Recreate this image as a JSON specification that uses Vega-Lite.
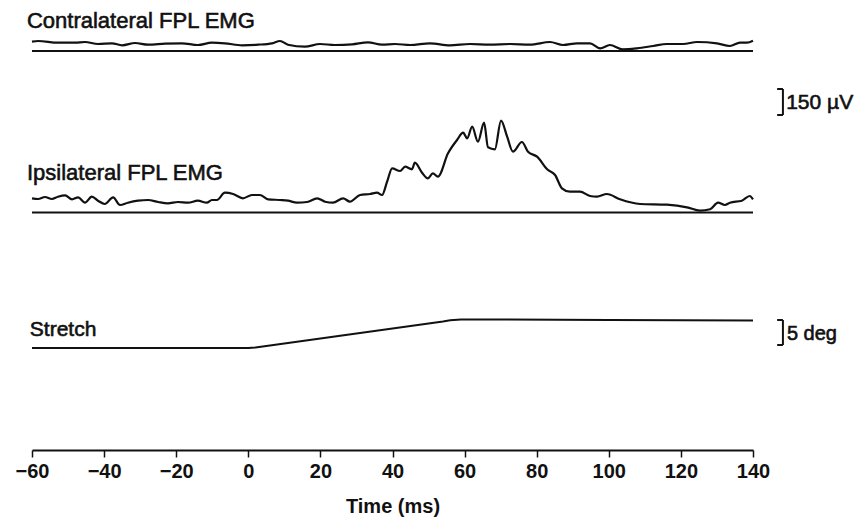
{
  "$schema": "https://vega.github.io/schema/vega-lite/v6.json",
  "width": 721,
  "height": 450,
  "autosize": {"type": "none"},
  "padding": {"left": 32, "right": 104, "top": 0, "bottom": 69},
  "background": "white",
  "config": {"view": {"stroke": null}},
  "datasets": {
    "traces": [
      {"trace": "contra", "t": -60, "v": 408.3},
      {"trace": "contra", "t": -58.3, "v": 409},
      {"trace": "contra", "t": -52.8, "v": 407.3},
      {"trace": "contra", "t": -48.1, "v": 407.3},
      {"trace": "contra", "t": -45.3, "v": 408},
      {"trace": "contra", "t": -41.7, "v": 406},
      {"trace": "contra", "t": -37.8, "v": 406.7},
      {"trace": "contra", "t": -35.0, "v": 404.7},
      {"trace": "contra", "t": -31.4, "v": 407},
      {"trace": "contra", "t": -27.8, "v": 405.3},
      {"trace": "contra", "t": -23.1, "v": 406.3},
      {"trace": "contra", "t": -18.4, "v": 406.7},
      {"trace": "contra", "t": -14.0, "v": 405},
      {"trace": "contra", "t": -10.1, "v": 407.3},
      {"trace": "contra", "t": -6.5, "v": 406.7},
      {"trace": "contra", "t": -1.7, "v": 404.7},
      {"trace": "contra", "t": 2.7, "v": 405.3},
      {"trace": "contra", "t": 6.6, "v": 406.7},
      {"trace": "contra", "t": 8.8, "v": 409},
      {"trace": "contra", "t": 11.0, "v": 405.3},
      {"trace": "contra", "t": 15.7, "v": 403.3},
      {"trace": "contra", "t": 19.9, "v": 406},
      {"trace": "contra", "t": 24.0, "v": 405},
      {"trace": "contra", "t": 28.8, "v": 405.7},
      {"trace": "contra", "t": 33.2, "v": 407.7},
      {"trace": "contra", "t": 37.1, "v": 405.3},
      {"trace": "contra", "t": 40.7, "v": 406},
      {"trace": "contra", "t": 44.9, "v": 405},
      {"trace": "contra", "t": 50.4, "v": 406.7},
      {"trace": "contra", "t": 55.9, "v": 404.7},
      {"trace": "contra", "t": 61.5, "v": 406},
      {"trace": "contra", "t": 67.0, "v": 405.3},
      {"trace": "contra", "t": 72.6, "v": 406},
      {"trace": "contra", "t": 78.1, "v": 405.3},
      {"trace": "contra", "t": 83.7, "v": 408},
      {"trace": "contra", "t": 87.3, "v": 405},
      {"trace": "contra", "t": 91.2, "v": 406.7},
      {"trace": "contra", "t": 94.8, "v": 406.7},
      {"trace": "contra", "t": 97.6, "v": 401.7},
      {"trace": "contra", "t": 100.3, "v": 405},
      {"trace": "contra", "t": 103.9, "v": 400.7},
      {"trace": "contra", "t": 107.8, "v": 401.7},
      {"trace": "contra", "t": 112.3, "v": 404},
      {"trace": "contra", "t": 116.1, "v": 406},
      {"trace": "contra", "t": 120.6, "v": 406},
      {"trace": "contra", "t": 124.5, "v": 408},
      {"trace": "contra", "t": 130.0, "v": 406.7},
      {"trace": "contra", "t": 133.6, "v": 404},
      {"trace": "contra", "t": 136.4, "v": 407.3},
      {"trace": "contra", "t": 138.3, "v": 407.3},
      {"trace": "contra", "t": 140, "v": 409.3},
      {"trace": "ipsi", "t": -60, "v": 251.7},
      {"trace": "ipsi", "t": -58.3, "v": 251},
      {"trace": "ipsi", "t": -56.4, "v": 253},
      {"trace": "ipsi", "t": -54.5, "v": 251},
      {"trace": "ipsi", "t": -52.8, "v": 253.3},
      {"trace": "ipsi", "t": -50.8, "v": 254.7},
      {"trace": "ipsi", "t": -48.9, "v": 250.7},
      {"trace": "ipsi", "t": -47.2, "v": 252.7},
      {"trace": "ipsi", "t": -45.3, "v": 247.3},
      {"trace": "ipsi", "t": -43.4, "v": 253.3},
      {"trace": "ipsi", "t": -41.7, "v": 249.3},
      {"trace": "ipsi", "t": -39.8, "v": 246},
      {"trace": "ipsi", "t": -37.5, "v": 252.7},
      {"trace": "ipsi", "t": -35.6, "v": 245},
      {"trace": "ipsi", "t": -33.4, "v": 247.3},
      {"trace": "ipsi", "t": -30.6, "v": 249.3},
      {"trace": "ipsi", "t": -27.8, "v": 250},
      {"trace": "ipsi", "t": -25.0, "v": 248},
      {"trace": "ipsi", "t": -22.3, "v": 246.7},
      {"trace": "ipsi", "t": -19.5, "v": 248},
      {"trace": "ipsi", "t": -16.7, "v": 247.3},
      {"trace": "ipsi", "t": -14.0, "v": 249.3},
      {"trace": "ipsi", "t": -11.5, "v": 247.3},
      {"trace": "ipsi", "t": -10.1, "v": 250},
      {"trace": "ipsi", "t": -8.7, "v": 250},
      {"trace": "ipsi", "t": -6.5, "v": 257.3},
      {"trace": "ipsi", "t": -4.2, "v": 256},
      {"trace": "ipsi", "t": -1.5, "v": 251.7},
      {"trace": "ipsi", "t": 1.0, "v": 255},
      {"trace": "ipsi", "t": 3.2, "v": 255},
      {"trace": "ipsi", "t": 5.5, "v": 250.7},
      {"trace": "ipsi", "t": 8.8, "v": 250},
      {"trace": "ipsi", "t": 11.0, "v": 249.3},
      {"trace": "ipsi", "t": 13.5, "v": 247.3},
      {"trace": "ipsi", "t": 16.3, "v": 248},
      {"trace": "ipsi", "t": 19.1, "v": 251.7},
      {"trace": "ipsi", "t": 21.3, "v": 248.3},
      {"trace": "ipsi", "t": 23.5, "v": 247.3},
      {"trace": "ipsi", "t": 26.3, "v": 251.7},
      {"trace": "ipsi", "t": 28.2, "v": 248.3},
      {"trace": "ipsi", "t": 31.0, "v": 255},
      {"trace": "ipsi", "t": 33.8, "v": 256},
      {"trace": "ipsi", "t": 35.7, "v": 257.3},
      {"trace": "ipsi", "t": 37.1, "v": 255},
      {"trace": "ipsi", "t": 38.5, "v": 268.3},
      {"trace": "ipsi", "t": 39.9, "v": 281.7},
      {"trace": "ipsi", "t": 42.1, "v": 279},
      {"trace": "ipsi", "t": 43.5, "v": 283.3},
      {"trace": "ipsi", "t": 45.4, "v": 280.7},
      {"trace": "ipsi", "t": 46.2, "v": 287.3},
      {"trace": "ipsi", "t": 48.2, "v": 277.3},
      {"trace": "ipsi", "t": 49.8, "v": 271.7},
      {"trace": "ipsi", "t": 51.2, "v": 276.7},
      {"trace": "ipsi", "t": 52.6, "v": 273.3},
      {"trace": "ipsi", "t": 55.4, "v": 296.7},
      {"trace": "ipsi", "t": 57.9, "v": 310},
      {"trace": "ipsi", "t": 59.6, "v": 317.3},
      {"trace": "ipsi", "t": 60.7, "v": 311.7},
      {"trace": "ipsi", "t": 62.1, "v": 323.3},
      {"trace": "ipsi", "t": 63.7, "v": 308.3},
      {"trace": "ipsi", "t": 65.4, "v": 327.3},
      {"trace": "ipsi", "t": 66.5, "v": 302.7},
      {"trace": "ipsi", "t": 68.4, "v": 300.7},
      {"trace": "ipsi", "t": 70.1, "v": 329.3},
      {"trace": "ipsi", "t": 71.8, "v": 313.3},
      {"trace": "ipsi", "t": 73.4, "v": 298.3},
      {"trace": "ipsi", "t": 75.9, "v": 308},
      {"trace": "ipsi", "t": 77.6, "v": 298.3},
      {"trace": "ipsi", "t": 80.1, "v": 293.3},
      {"trace": "ipsi", "t": 82.9, "v": 280.7},
      {"trace": "ipsi", "t": 85.1, "v": 275},
      {"trace": "ipsi", "t": 87.0, "v": 261.7},
      {"trace": "ipsi", "t": 89.2, "v": 258.3},
      {"trace": "ipsi", "t": 92.0, "v": 258.3},
      {"trace": "ipsi", "t": 94.8, "v": 254},
      {"trace": "ipsi", "t": 96.7, "v": 253.3},
      {"trace": "ipsi", "t": 99.5, "v": 256},
      {"trace": "ipsi", "t": 103.1, "v": 250.7},
      {"trace": "ipsi", "t": 108.7, "v": 246},
      {"trace": "ipsi", "t": 116.1, "v": 245.3},
      {"trace": "ipsi", "t": 121.7, "v": 242.7},
      {"trace": "ipsi", "t": 125.3, "v": 239.3},
      {"trace": "ipsi", "t": 128.1, "v": 240.7},
      {"trace": "ipsi", "t": 130.3, "v": 247.3},
      {"trace": "ipsi", "t": 132.2, "v": 245},
      {"trace": "ipsi", "t": 133.6, "v": 247.3},
      {"trace": "ipsi", "t": 136.9, "v": 249.3},
      {"trace": "ipsi", "t": 139.1, "v": 254},
      {"trace": "ipsi", "t": 140, "v": 250.7}
    ],
    "stretch": [
      {"t": -60, "v": 102},
      {"t": 0, "v": 102},
      {"t": 2, "v": 102.6},
      {"t": 4, "v": 103.6},
      {"t": 8, "v": 105.5},
      {"t": 54, "v": 128.5},
      {"t": 56, "v": 129.7},
      {"t": 59, "v": 130.5},
      {"t": 72, "v": 130.5},
      {"t": 100, "v": 130},
      {"t": 140, "v": 129.5}
    ],
    "baselines": [
      {"t": -60, "t2": 140, "v": 399},
      {"t": -60, "t2": 140, "v": 237.5}
    ],
    "bars": [
      {"t": 148.3, "t2": 148.3, "v": 361, "v2": 335},
      {"t": 146.7, "t2": 148.3, "v": 361, "v2": 361},
      {"t": 146.7, "t2": 148.3, "v": 335, "v2": 335},
      {"t": 148.3, "t2": 148.3, "v": 130, "v2": 105},
      {"t": 146.7, "t2": 148.3, "v": 130, "v2": 130},
      {"t": 146.7, "t2": 148.3, "v": 105, "v2": 105}
    ],
    "labels": [
      {"t": -61.4, "v": 422, "label": "Contralateral FPL EMG", "size": 22},
      {"t": -61.4, "v": 270, "label": "Ipsilateral FPL EMG", "size": 22},
      {"t": -60.6, "v": 114, "label": "Stretch", "size": 21},
      {"t": 149.2, "v": 341, "label": "150 µV", "size": 21},
      {"t": 149.4, "v": 110, "label": "5 deg", "size": 20}
    ]
  },
  "layer": [
    {
      "data": {"name": "baselines"},
      "mark": {"type": "rule", "color": "#111", "strokeWidth": 2},
      "encoding": {
        "x": {"field": "t", "type": "quantitative", "scale": {"domain": [-60, 140], "nice": false, "zero": false},
          "axis": {
            "values": [-60, -40, -20, 0, 20, 40, 60, 80, 100, 120, 140],
            "title": "Time (ms)", "grid": false,
            "domainColor": "#111", "domainWidth": 2,
            "tickColor": "#111", "tickWidth": 1.5, "tickSize": 7,
            "labelFlush": false, "labelOverlap": false,
            "labelFont": "Liberation Sans", "labelFontSize": 20, "labelFontWeight": "bold", "labelColor": "#111", "labelPadding": 4,
            "titleFont": "Liberation Sans", "titleFontSize": 20, "titleFontWeight": "bold", "titleColor": "#111", "titlePadding": 15
          }},
        "x2": {"field": "t2"},
        "y": {"field": "v", "type": "quantitative", "scale": {"domain": [0, 450], "nice": false, "zero": false}, "axis": null}
      }
    },
    {
      "data": {"name": "traces"},
      "mark": {"type": "line", "color": "#111", "strokeWidth": 2.2, "interpolate": "monotone"},
      "encoding": {
        "x": {"field": "t", "type": "quantitative"},
        "y": {"field": "v", "type": "quantitative"},
        "detail": {"field": "trace"}
      }
    },
    {
      "data": {"name": "stretch"},
      "mark": {"type": "line", "color": "#111", "strokeWidth": 2, "interpolate": "linear"},
      "encoding": {
        "x": {"field": "t", "type": "quantitative"},
        "y": {"field": "v", "type": "quantitative"}
      }
    },
    {
      "data": {"name": "bars"},
      "mark": {"type": "rule", "color": "#111", "strokeWidth": 2},
      "encoding": {
        "x": {"field": "t", "type": "quantitative"},
        "x2": {"field": "t2"},
        "y": {"field": "v", "type": "quantitative"},
        "y2": {"field": "v2"}
      }
    },
    {
      "data": {"name": "labels"},
      "mark": {"type": "text", "align": "left", "baseline": "alphabetic", "font": "Liberation Sans", "fontWeight": "normal", "color": "#111", "stroke": "#111", "strokeWidth": 0.6},
      "encoding": {
        "x": {"field": "t", "type": "quantitative"},
        "y": {"field": "v", "type": "quantitative"},
        "text": {"field": "label"},
        "size": {"field": "size", "type": "quantitative", "scale": null}
      }
    }
  ]
}
